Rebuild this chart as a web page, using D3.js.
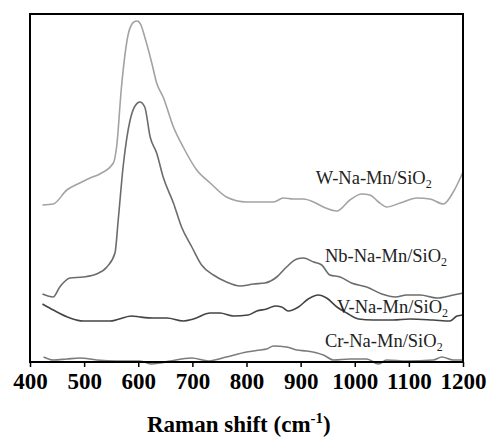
<!DOCTYPE html>
<html>
<head>
<meta charset="utf-8">
<script src="https://cdn.jsdelivr.net/npm/d3@7"></script>
<style>
  body { margin: 0; background: #fff; }
  svg { display: block; }
  .tick text { font-family: "Liberation Serif", "Times New Roman", serif; font-weight: bold; }
</style>
</head>
<body>
<div id="chart"></div>
<script>
// Raman spectra, [shift cm-1, intensity a.u.] (curves are offset)
var wSpectrum = [[423,157],[443,158],[468,172],[492,179],[511,184],[529,188],[554,199],[560,215],[569,275],[582,329],[592,340],[598,341],[605,337],[612,325],[625,299],[634,279],[646,265],[665,235],[683,215],[708,192],[733,179],[763,165],[800,160],[850,160],[868,164],[887,163],[905,163],[924,160],[942,155],[967,151],[991,162],[1013,168],[1028,167],[1044,160],[1059,155],[1084,159],[1115,164],[1139,163],[1164,158],[1182,170],[1200,190]];
var nbSpectrum = [[423,68],[443,65],[455,75],[474,84],[498,85],[523,88],[542,95],[557,109],[563,142],[572,195],[585,242],[594,256],[603,260],[612,255],[622,225],[634,209],[646,185],[665,159],[680,135],[699,115],[717,97],[739,87],[763,80],[788,76],[813,78],[834,79],[856,85],[874,95],[893,103],[905,104],[924,100],[939,97],[954,87],[973,85],[994,79],[1022,75],[1050,68],[1075,65],[1096,67],[1121,67],[1152,64],[1182,67],[1200,69]];
var vSpectrum = [[423,58],[443,52],[474,44],[498,41],[548,41],[588,46],[603,45],[628,44],[653,44],[683,41],[702,43],[733,49],[751,49],[776,46],[803,47],[819,51],[837,53],[853,56],[865,55],[877,51],[896,55],[914,63],[933,67],[948,64],[967,55],[985,49],[1007,43],[1034,42],[1071,42],[1102,43],[1145,42],[1176,41],[1189,46],[1200,47]];
var crSpectrum = [[425,5],[443,2],[468,3],[492,4],[523,2],[560,1],[603,1],[625,-2],[640,-1],[659,1],[699,4],[730,1],[763,5],[800,10],[825,12],[837,13],[850,16],[874,15],[893,12],[911,11],[942,7],[961,2],[991,3],[1022,3],[1044,-2],[1059,2],[1096,1],[1145,2],[1161,5],[1182,2],[1200,2]];

var seriesNames = ["W-Na-Mn/SiO", "Nb-Na-Mn/SiO", "V-Na-Mn/SiO", "Cr-Na-Mn/SiO"];
var labelPos = [[928,178],[945,100],[967,49],[945,15]];
var xTicks = [400, 500, 600, 700, 800, 900, 1000, 1100, 1200];

var series = [wSpectrum, nbSpectrum, vSpectrum, crSpectrum];
var colors = ["#a3a3a3", "#6c6c6c", "#444444", "#7c7c7c"];

var W = 491, H = 441;
var margin = {top: 14, right: 28, bottom: 79, left: 30};
var width = W - margin.left - margin.right;
var height = H - margin.top - margin.bottom;

var x = d3.scaleLinear().domain([400, 1200]).range([0, width]);
var y = d3.scaleLinear().domain([0, 348]).range([height, 0]);

var svg = d3.select("#chart").append("svg")
    .attr("width", W)
    .attr("height", H);

var g = svg.append("g")
    .attr("transform", "translate(" + margin.left + "," + margin.top + ")");

var line = d3.line()
    .x(function(d) { return x(d[0]); })
    .y(function(d) { return y(d[1]); })
    .curve(d3.curveMonotoneX);

g.selectAll(".spectrum")
    .data(series)
  .enter().append("path")
    .attr("class", "spectrum")
    .attr("d", line)
    .attr("fill", "none")
    .attr("stroke", function(d, i) { return colors[i]; })
    .attr("stroke-width", 1.6);

// labels
var labels = g.selectAll(".label")
    .data(seriesNames)
  .enter().append("text")
    .attr("class", "label")
    .attr("x", function(d, i) { return x(labelPos[i][0]); })
    .attr("y", function(d, i) { return y(labelPos[i][1]); })
    .style("font-family", "'Liberation Serif', 'Times New Roman', serif")
    .style("font-size", "18.5px")
    .attr("fill", "#222");
labels.append("tspan").text(function(d) { return d; });
labels.append("tspan")
    .attr("dy", 4)
    .style("font-size", "12px")
    .text("2");

// frame
g.append("rect")
    .attr("width", width)
    .attr("height", height)
    .attr("fill", "none")
    .attr("stroke", "#000")
    .attr("stroke-width", 2);

// x axis
var xAxis = d3.axisBottom(x).tickValues(xTicks).tickSize(5).tickPadding(6).tickFormat(d3.format("d"));
var ax = g.append("g")
    .attr("transform", "translate(0," + height + ")")
    .call(xAxis);
ax.select(".domain").remove();
ax.selectAll(".tick line").attr("stroke", "#000").attr("stroke-width", 1.5);
ax.selectAll(".tick text").style("font-size", "23px").attr("fill", "#000");

// axis title
var title = svg.append("text")
    .attr("x", 147)
    .attr("y", 432)
    .style("font-family", "'Liberation Serif', 'Times New Roman', serif")
    .style("font-weight", "bold")
    .style("font-size", "23px");
title.append("tspan").text("Raman shift (cm");
title.append("tspan").attr("dy", -9).style("font-size", "15px").text("-1");
title.append("tspan").attr("dy", 9).text(")");
</script>
</body>
</html>
